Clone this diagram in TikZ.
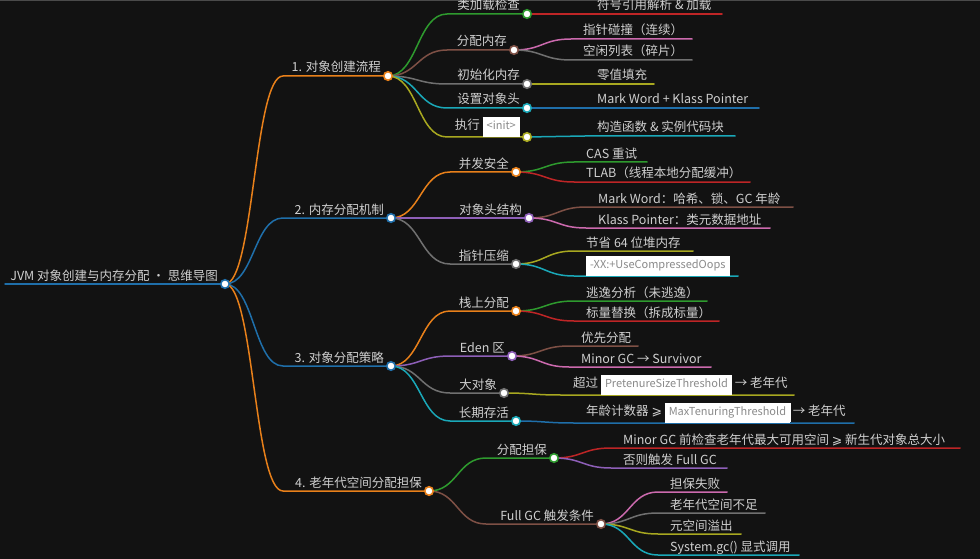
\documentclass[tikz,border=0pt]{standalone}
\usepackage{fontspec}
\setmainfont{Noto Sans CJK SC}
\newfontfamily\geqfont{DejaVu Sans}
\usetikzlibrary{calc}
\definecolor{mmbg}{HTML}{121212}
\definecolor{mmtext}{HTML}{CFCFCF}
\definecolor{mmrule}{HTML}{4A4A4A}
\definecolor{mmcodetext}{HTML}{8A8A8A}
\definecolor{mmblue}{HTML}{1F6FAA}
\definecolor{mmorange}{HTML}{E8801A}
\definecolor{mmgreen}{HTML}{2E9A2E}
\definecolor{mmred}{HTML}{BE2526}
\definecolor{mmpurple}{HTML}{8E5FB8}
\definecolor{mmbrown}{HTML}{7E5045}
\definecolor{mmpink}{HTML}{CC6AAE}
\definecolor{mmgray}{HTML}{707070}
\definecolor{mmolive}{HTML}{A8A820}
\definecolor{mmcyan}{HTML}{1AA8B8}
\newcommand{\mmfont}{\fontsize{12.5}{15}\selectfont}
\newcommand{\mmgeq}{{\geqfont ⩾}}
\newcommand{\mmcode}[1]{{\setlength{\fboxsep}{3.5pt}\setlength{\fboxrule}{0.5pt}%
  \fcolorbox{white}{white}{\fontsize{11}{13}\selectfont\color{mmcodetext}\vphantom{Ag}#1}}}
\tikzset{
  link/.style={line width=1.5pt, line cap=round},
  branch/.style={to path={.. controls ($(\tikztostart)!0.5!(\tikztostart-|\tikztotarget)$)
    and ($(\tikztotarget)!0.5!(\tikztotarget-|\tikztostart)$) .. (\tikztotarget)}},
  knot/.style={circle, fill=white, line width=1.6pt, inner sep=0pt, minimum size=8.5pt},
  topic/.style={text=mmtext, font=\mmfont, inner sep=0pt, anchor=base east},
  leaf/.style={topic, anchor=base west}
}

\begin{document}
\begin{tikzpicture}[x=1pt,y=-1pt]
  \fill[mmbg] (0,0) rectangle (980,559);
  \useasboundingbox (0,0) rectangle (980,559);
  \draw[mmrule, line width=1pt] (0,0.5) -- (980,0.5);

  % root
  \coordinate (r0) at (5,284);
  \coordinate (pr) at (225,284);
  \draw[link, mmblue] (r0) -- (pr);
  \node[topic] (troot) at ($(pr)+(-7,-4)$) {JVM 对象创建与内存分配 · 思维导图};

  % branches with a dot
  \foreach \from/\id/\x/\y/\k/\col/\txt in {
    pr/1/283/76/388/mmorange/{1. 对象创建流程},
    pr/2/283/218/391/mmblue/{2. 内存分配机制},
    pr/3/283/366/391/mmblue/{3. 对象分配策略},
    pr/4/283/491/429/mmorange/{4. 老年代空间分配担保},
    p1/1a/447/14/527/mmgreen/{类加载检查},
    p1/1b/447/50/514/mmbrown/{分配内存},
    p1/1c/447/84/527/mmgray/{初始化内存},
    p1/1d/447/108/527/mmcyan/{设置对象头},
    p1/1e/447/137/527/mmolive/{\raisebox{3.5pt}{执行 \mmcode{<init>}}},
    p2/2a/450/172/516/mmorange/{并发安全},
    p2/2b/450/218/529/mmpurple/{对象头结构},
    p2/2c/450/264/516/mmgray/{指针压缩},
    p3/3a/450/311/516/mmorange/{栈上分配},
    p3/3b/450/356/512/mmpurple/{Eden 区},
    p3/3c/450/393/504/mmgray/{大对象},
    p3/3d/450/421/516/mmcyan/{长期存活},
    p4/4a/486/458/554/mmgreen/{分配担保},
    p4/4b/486/524/601/mmbrown/{Full GC 触发条件}}{
    \coordinate (s\id) at (\x,\y);
    \coordinate (p\id) at (\k,\y);
    \draw[link, \col] (\from) to[branch] (s\id) -- (p\id);
    \node[topic] (t\id) at ($(p\id)+(-7,-4)$) {\txt};
  }

  % leaves
  \foreach \from/\id/\x/\y/\k/\col/\txt in {
    p1a/1a1/585/14/722/mmred/{符号引用解析 \& 加载},
    p1b/1b1/571/39/692/mmpink/{指针碰撞（连续）},
    p1b/1b2/571/60/692/mmgray/{空闲列表（碎片）},
    p1c/1c1/585/84/654/mmolive/{零值填充},
    p1d/1d1/585/108/759/mmblue/{Mark Word + Klass Pointer},
    p1e/1e1/585/136/735/mmcyan/{构造函数 \& 实例代码块},
    p2a/2a1/574/162/647/mmgreen/{CAS 重试},
    p2a/2a2/574/182/750/mmred/{TLAB（线程本地分配缓冲）},
    p2b/2b1/586/207/793/mmbrown/{Mark Word：哈希、锁、GC 年龄},
    p2b/2b2/586/228/770/mmpink/{Klass Pointer：类元数据地址},
    p2c/2c1/574/251/693/mmolive/{节省 64 位堆内存},
    p2c/2c2/574/276/738/mmcyan/{\raisebox{3.5pt}{\mmcode{-XX:+UseCompressedOops}}},
    p3a/3a1/574/301/707/mmgreen/{逃逸分析（未逃逸）},
    p3a/3a2/574/321/719/mmred/{标量替换（拆成标量）},
    p3b/3b1/569/346/638/mmbrown/{优先分配},
    p3b/3b2/569/367/711/mmpink/{Minor GC → Survivor},
    p3c/3c1/561/395/794/mmolive/{\raisebox{3.5pt}{超过 \mmcode{PretenureSizeThreshold} → 老年代}},
    p3d/3d1/574/423/854/mmblue/{\raisebox{3.5pt}{年龄计数器 \mmgeq{} \mmcode{MaxTenuringThreshold} → 老年代}},
    p4a/4a1/611/448/960/mmred/{Minor GC 前检查老年代最大可用空间 \mmgeq{} 新生代对象总大小},
    p4a/4a2/611/468/727/mmpurple/{否则触发 Full GC},
    p4b/4b1/658/492/727/mmpink/{担保失败},
    p4b/4b2/658/513/765/mmgray/{老年代空间不足},
    p4b/4b3/658/534/741/mmolive/{元空间溢出},
    p4b/4b4/658/555/799/mmcyan/{System.gc() 显式调用}}{
    \coordinate (s\id) at (\x,\y);
    \coordinate (e\id) at (\k,\y);
    \draw[link, \col] (\from) to[branch] (s\id) -- (e\id);
    \node[leaf] (t\id) at ($(s\id)+(12,-4)$) {\txt};
  }

  % dots on top
  \foreach \id/\col in {r/mmblue, 1/mmorange, 2/mmblue, 3/mmblue, 4/mmorange,
    1a/mmgreen, 1b/mmbrown, 1c/mmgray, 1d/mmcyan, 1e/mmolive,
    2a/mmorange, 2b/mmpurple, 2c/mmgray,
    3a/mmorange, 3b/mmpurple, 3c/mmgray, 3d/mmcyan,
    4a/mmgreen, 4b/mmbrown}
    \node[knot, draw=\col] (k\id) at (p\id) {};
\end{tikzpicture}
\end{document}
